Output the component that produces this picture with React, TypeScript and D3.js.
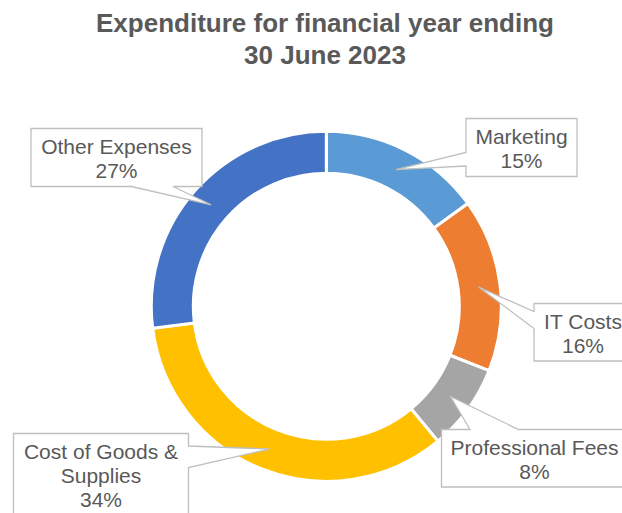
import React, { useEffect, useRef } from "react";
import * as d3 from "d3";

// chart data
const categories = ["Marketing", "IT Costs", "Professional Fees", "Cost of Goods & Supplies", "Other Expenses"];
const values = [15, 16, 8, 34, 27];
const labelLines = [["Marketing"], ["IT Costs"], ["Professional Fees"], ["Cost of Goods &", "Supplies"], ["Other Expenses"]];
const colors = ["#5B9BD5", "#ED7D31", "#A5A5A5", "#FFC000", "#4472C4"];
const titleLines = ["Expenditure for financial year ending", "30 June 2023"];

// callout boxes: position + which edge the pointer leaves from (a, b = offsets along that edge)
type Side = "left" | "right" | "top" | "bottom";
const calloutLayout: { x: number; y: number; w: number; h: number; side: Side; a: number; b: number }[] = [
  { x: 466, y: 118.5, w: 111, h: 58, side: "left", a: 34, b: 47.5 },
  { x: 534, y: 303.5, w: 98, h: 57.5, side: "left", a: 8, b: 25 },
  { x: 441.5, y: 429.5, w: 186, h: 57.5, side: "top", a: 28.5, b: 77 },
  { x: 13.5, y: 433.5, w: 175, h: 82, side: "right", a: 12.5, b: 34 },
  { x: 31, y: 128.5, w: 171, h: 58, side: "bottom", a: 100.5, b: 142 },
];

const width = 622;
const height = 513;
const cx = 326.3;
const cy = 306.3;
const outerR = 175;
const innerR = 133;

function calloutPath(b: (typeof calloutLayout)[number], tip: [number, number]) {
  const { x, y, w, h, side, a, b: e } = b;
  const pts: [number, number][] = [];
  // clockwise from top-left
  pts.push([x, y]);
  if (side === "top") pts.push([x + a, y], tip, [x + e, y]);
  pts.push([x + w, y]);
  if (side === "right") pts.push([x + w, y + a], tip, [x + w, y + e]);
  pts.push([x + w, y + h]);
  if (side === "bottom") pts.push([x + e, y + h], tip, [x + a, y + h]);
  pts.push([x, y + h]);
  if (side === "left") pts.push([x, y + e], tip, [x, y + a]);
  return "M" + pts.map((p) => p.join(",")).join("L") + "Z";
}

export default function App() {
  const svgRef = useRef<SVGSVGElement>(null);

  useEffect(() => {
    const svg = d3.select(svgRef.current);
    svg.selectAll("*").remove();

    svg.append("rect").attr("width", width).attr("height", height).attr("fill", "#fff");

    // title
    svg
      .append("g")
      .selectAll("text")
      .data(titleLines)
      .join("text")
      .attr("x", 325)
      .attr("y", (_, i) => 31.7 + i * 32.6)
      .attr("text-anchor", "middle")
      .attr("font-family", "'Liberation Sans', Arial, sans-serif")
      .attr("font-weight", "bold")
      .attr("font-size", 26)
      .attr("fill", "#595959")
      .text((d) => d);

    const pie = d3
      .pie<number>()
      .sort(null)
      .value((d) => d);
    const arcs = pie(values);

    const arc = d3.arc<d3.PieArcDatum<number>>().innerRadius(innerR).outerRadius(outerR);
    const midArc = d3.arc<d3.PieArcDatum<number>>().innerRadius(153.5).outerRadius(153.5);

    const g = svg.append("g").attr("transform", `translate(${cx},${cy})`);
    g.selectAll("path")
      .data(arcs)
      .join("path")
      .attr("d", arc)
      .attr("fill", (_, i) => colors[i])
      .attr("stroke", "#fff")
      .attr("stroke-width", 3);

    // callouts
    const labels = svg.append("g");
    arcs.forEach((d, i) => {
      const c = midArc.centroid(d);
      const tip: [number, number] = [c[0] + cx, c[1] + cy];
      const box = calloutLayout[i];
      labels
        .append("path")
        .attr("d", calloutPath(box, tip))
        .attr("fill", "#fff")
        .attr("stroke", "#BFBFBF")
        .attr("stroke-width", 1.3);
      const lines = [...labelLines[i], `${values[i]}%`];
      labels
        .append("g")
        .selectAll("text")
        .data(lines)
        .join("text")
        .attr("x", box.x + box.w / 2)
        .attr("y", (_, j) => box.y + 25 + j * 24)
        .attr("text-anchor", "middle")
        .attr("font-family", "'Liberation Sans', Arial, sans-serif")
        .attr("font-size", 21)
        .attr("fill", "#595959")
        .text((t) => t);
    });
    // keep the category list attached for reference
    labels.attr("aria-label", categories.join(", "));
  }, []);

  return (
    <svg
      ref={svgRef}
      width={width}
      height={height}
      style={{ position: "absolute", left: 0, top: 0, display: "block" }}
    />
  );
}
